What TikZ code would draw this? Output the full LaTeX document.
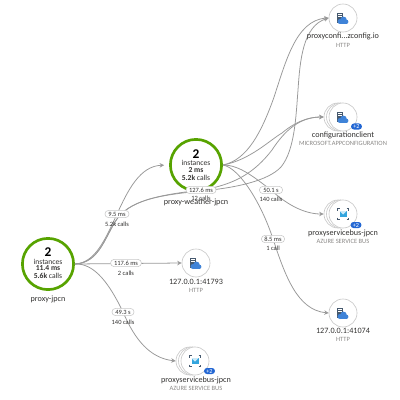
\documentclass[tikz,border=0pt]{standalone}
\usepackage{fontspec}
\setmainfont{Carlito}
\usetikzlibrary{arrows.meta}
\definecolor{ringgreen}{HTML}{57A300}
\definecolor{linkgray}{HTML}{999999}
\definecolor{rimgray}{HTML}{C8C8C8}
\definecolor{textdark}{HTML}{323130}
\definecolor{textsoft}{HTML}{8A8886}
\definecolor{badgeblue}{HTML}{2266D3}
\definecolor{cloudblue}{HTML}{3F83D8}
\definecolor{servergray}{HTML}{46596E}
\definecolor{busblue}{HTML}{33A5DE}
\tikzset{
  app/.style={circle, draw=ringgreen, line width=1.9pt, fill=white, minimum size=1.28cm, inner sep=0pt},
  dep/.style={circle, draw=rimgray, line width=0.45pt, fill=white, minimum size=0.7cm, inner sep=0pt},
  link/.style={draw=linkgray, line width=0.55pt, -{Stealth[length=3.2pt,width=3.2pt]}},
  pill/.style={draw=rimgray, line width=0.4pt, fill=white, rounded corners=2.5pt, minimum width=0.58cm, minimum height=0.18cm, inner sep=0pt, font=\fontsize{4.6}{5}\selectfont, text=textdark},
  calls/.style={font=\fontsize{4.6}{5}\selectfont, text=textdark, inner sep=0pt},
  nametext/.style={font=\fontsize{5.8}{6}\selectfont, text=textdark, inner sep=0pt},
  kindtext/.style={font=\fontsize{4.6}{5}\selectfont, text=textsoft, inner sep=0pt},
  badge/.style={fill=badgeblue, rounded corners=2pt, minimum width=0.27cm, minimum height=0.15cm, inner sep=0pt, text=white, font=\fontsize{4.4}{4}\selectfont},
  countbig/.style={font=\fontsize{9.5}{10}\selectfont\bfseries, text=black, inner sep=0pt},
  countsmall/.style={font=\fontsize{5.4}{6}\selectfont, text=textdark, inner sep=0pt},
  servericon/.pic={
    \fill[servergray] (-6,-5) rectangle (0,5);
    \fill[white] (-5,-3.6) rectangle (-1,-2.9);
    \fill[white] (-5,-1.8) rectangle (-1,-1.1);
    \fill[cloudblue] (-3,3.5) circle (2.5);
    \fill[cloudblue] (0.5,1.8) circle (3.2);
    \fill[cloudblue] (3.2,3.8) circle (2.2);
    \fill[cloudblue] (-3,4) rectangle (3.2,6);
  },
  busicon/.pic={
    \draw[servergray, line width=0.4pt] (-5.5,-3.5) -- (-5.5,-5.5) -- (-3.5,-5.5);
    \draw[servergray, line width=0.4pt] (3.5,-5.5) -- (5.5,-5.5) -- (5.5,-3.5);
    \draw[servergray, line width=0.4pt] (-5.5,3.5) -- (-5.5,5.5) -- (-3.5,5.5);
    \draw[servergray, line width=0.4pt] (3.5,5.5) -- (5.5,5.5) -- (5.5,3.5);
    \fill[busblue] (-3.5,-3) rectangle (3.5,3);
    \fill[white!75!busblue] (-3.5,-3) -- (0,0.5) -- (3.5,-3) -- cycle;
  }
}
\begin{document}
\begin{tikzpicture}[x=0.025cm, y=-0.025cm]
  \useasboundingbox (0,0) rectangle (400,400);
  \node[app] (jpcn) at (48,264) {};
  \node[app] (weather) at (196,165) {};
  \node[dep] (config) at (343,18) {};
  \node[dep] (clientback) at (338,117) {};
  \node[dep] (clientmid) at (340.5,117) {};
  \node[dep] (client) at (343,117) {};
  \node[dep] (busback) at (338,214) {};
  \node[dep] (busmid) at (340.5,214) {};
  \node[dep] (bus) at (343,214) {};
  \node[dep] (local) at (343,313) {};
  \node[dep] (loopback) at (196,263) {};
  \node[dep] (lowbusback) at (190,361) {};
  \node[dep] (lowbusmid) at (192.5,361) {};
  \node[dep] (lowbus) at (195,361) {};

  \draw[link, shorten >=3.5pt] (jpcn.east) .. controls (95,263) and (105,240) .. (117,214) .. controls (128,190) and (140,166) .. (weather.west);
  \draw[link] (jpcn.east) .. controls (98,263) and (104,240) .. (115,222) .. controls (128,200) and (160,195) .. (201,190) .. controls (235,185) and (255,172) .. (272,150) .. controls (285,130) and (300,117) .. (clientback.west);
  \draw[link] (jpcn.east) .. controls (98,263) and (104,240) .. (115,222) .. controls (128,200) and (160,195) .. (201,191) .. controls (235,188) and (268,181) .. (281,167) .. controls (295,150) and (296,115) .. (298,90) .. controls (300,60) and (303,26) .. (config.west);
  \draw[link] (jpcn.east) -- (loopback.west);
  \draw[link] (jpcn.east) .. controls (95,263) and (110,285) .. (123,312) .. controls (135,340) and (150,358) .. (lowbusback.west);
  \draw[link] (weather.east) .. controls (248,160) and (262,130) .. (273,100) .. controls (285,65) and (295,20) .. (config.west);
  \draw[link] (weather.east) .. controls (250,160) and (270,140) .. (282,133) .. controls (295,122) and (308,117) .. (clientback.west);
  \draw[link] (weather.east) .. controls (240,165) and (255,178) .. (271,190) .. controls (285,203) and (303,214) .. (busback.west);
  \draw[link] (weather.east) .. controls (240,168) and (262,205) .. (273,239) .. controls (285,275) and (297,310) .. (local.west);

  \node[countbig] (jpcncount) at (48,252.5) {2};
  \node[countsmall] (jpcnkind) at (48,261.5) {instances};
  \node[countsmall, font=\fontsize{5.4}{6}\selectfont\bfseries] (jpcnms) at (48,268.5) {11.4 ms};
  \node[countsmall] (jpcncalls) at (48,275.5) {\textbf{5.6k} calls};
  \node[nametext] (jpcnname) at (48,299) {proxy-jpcn};
  \node[countbig] (weathercount) at (196,154) {2};
  \node[countsmall] (weatherkind) at (196,163) {instances};
  \node[countsmall, font=\fontsize{5.4}{6}\selectfont\bfseries] (weatherms) at (196,170) {2 ms};
  \node[countsmall] (weathercalls) at (196,177.5) {\textbf{5.2k} calls};
  \node[nametext] (weathername) at (196,202) {proxy-weather-jpcn};

  \pic at (config) {servericon};
  \pic at (client) {servericon};
  \pic at (local) {servericon};
  \pic at (loopback) {servericon};
  \pic at (bus) {busicon};
  \pic at (lowbus) {busicon};
  \node[badge] (clientbadge) at (356.5,126.5) {+2};
  \node[badge] (busbadge) at (356,225) {+2};
  \node[badge] (lowbusbadge) at (209.5,371) {+2};

  \node[nametext] (configname) at (343,36.5) {proxyconfi...zconfig.io};
  \node[kindtext] (configkind) at (343,45) {HTTP};
  \node[nametext] (clientname) at (343,135) {configurationclient};
  \node[kindtext] (clientkind) at (343,143) {MICROSOFT.APPCONFIGURATION};
  \node[nametext] (busname) at (343,233) {proxyservicebus-jpcn};
  \node[kindtext] (buskind) at (343,241) {AZURE SERVICE BUS};
  \node[nametext] (localname) at (343,331) {127.0.0.1:41074};
  \node[kindtext] (localkind) at (343,339) {HTTP};
  \node[nametext] (loopname) at (196,282) {127.0.0.1:41793};
  \node[kindtext] (loopkind) at (196,290) {HTTP};
  \node[nametext] (lowbusname) at (196,380) {proxyservicebus-jpcn};
  \node[kindtext] (lowbuskind) at (196,388) {AZURE SERVICE BUS};

  \node[pill, minimum width=0.6cm] (weatherpill) at (117,214) {9.5 ms};
  \node[calls] (weathertally) at (117,224) {5.2k calls};
  \node[pill, minimum width=0.77cm] (looppill) at (126,263) {117.6 ms};
  \node[calls] (looptally) at (126,273) {2 calls};
  \node[pill, minimum width=0.55cm] (lowbuspill) at (123,312) {49.3 s};
  \node[calls] (lowbustally) at (123,322) {140 calls};
  \node[pill, minimum width=0.75cm] (clientpill) at (201,190) {127.6 ms};
  \node[calls] (clienttally) at (201,198) {12 calls};
  \node[pill, minimum width=0.58cm] (buspill) at (271,190) {50.1 s};
  \node[calls] (bustally) at (271,199) {140 calls};
  \node[pill, minimum width=0.58cm] (localpill) at (273,239) {8.5 ms};
  \node[calls] (localtally) at (273,248) {1 call};
\end{tikzpicture}
\end{document}
